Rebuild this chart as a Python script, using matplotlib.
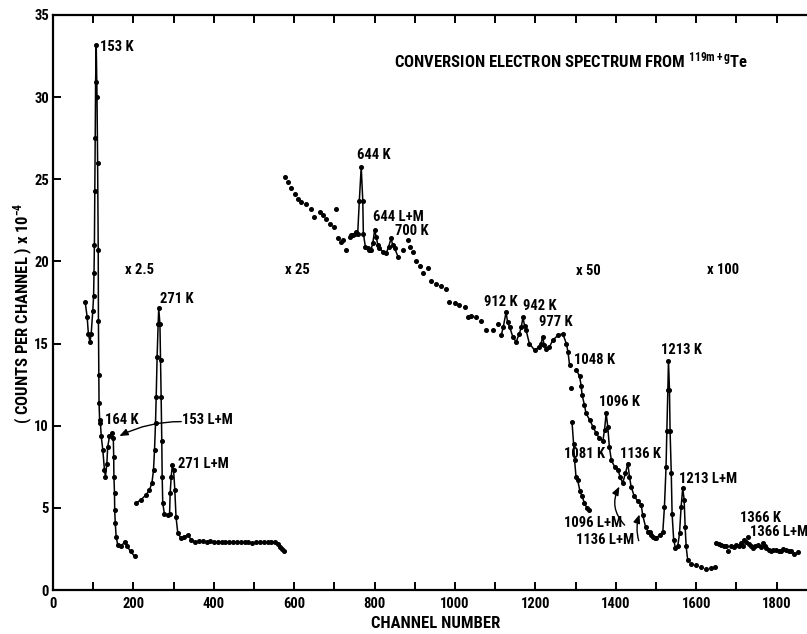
import numpy as np
import matplotlib
matplotlib.use("Agg")
import matplotlib.pyplot as plt
from matplotlib import font_manager

# ---------------------------------------------------------------- data
# 153 K / 164 K region (x1 and x2.5)
a_ch = [80, 85, 88, 92, 95, 99, 101, 102, 103, 104, 105, 106, 107.5, 109.5, 111,
        112.5, 113, 114, 114.5, 116, 118, 120, 124, 128, 130.5, 134, 136, 140.5,
        146, 150, 151, 151.5, 153, 153.5, 155, 157, 161, 170, 178, 184.5, 193, 203]
a_val = [17.55, 16.6, 15.6, 15.1, 15.6, 17.0, 17.9, 19.3, 21.0, 24.3, 27.5, 30.9,
         33.2, 30.0, 26.0, 20.7, 16.4, 13.1, 11.4, 10.35, 10.15, 9.35, 8.5, 7.3,
         6.9, 7.7, 8.7, 9.35, 9.55, 9.25, 8.1, 6.9, 5.9, 4.85, 4.05, 3.25, 2.75,
         2.65, 2.95, 2.65, 2.35, 2.05]

# 271 K / 271 L+M region
b_ch = [207, 219, 232, 240, 246, 250, 252.5, 255, 256.7, 259, 261.6, 263, 266,
        267.5, 269, 270.6, 271.6, 273, 277, 285.5, 290, 291.5, 294, 297, 300, 303,
        306, 310.5, 319, 327, 335, 344]
b_val = [5.3, 5.5, 5.8, 6.1, 6.5, 7.3, 8.5, 10.15, 11.75, 14.2, 16.2, 17.15, 16.2,
         14.0, 11.75, 9.1, 6.9, 5.3, 4.65, 4.55, 4.65, 5.9, 6.9, 7.6, 7.3, 6.1,
         4.45, 3.45, 3.15, 3.25, 3.35, 3.05]

# flat tail after 271 L+M
tail_ch = [353, 363, 372, 382, 391, 401, 410, 420, 429, 439, 448, 458, 467, 477,
           486, 496, 505, 515, 524, 534, 543, 553, 559, 565, 570, 574]
tail_val = [2.95, 3.0, 3.0, 2.95, 3.0, 2.95, 2.95, 2.95, 2.9, 2.95, 2.9, 2.95, 2.9,
            2.95, 2.9, 2.85, 2.95, 2.9, 2.9, 2.95, 2.9, 2.9, 2.8, 2.6, 2.5, 2.4]

# x25 region: 644 K ... 977 K
c_ch = [578, 584, 593, 601, 609, 617, 630, 642, 650, 663, 671, 680, 688, 700, 703,
        708, 717, 721, 729, 738, 742, 746, 750, 754, 758, 762, 766.7, 770.6, 772,
        777, 783, 787, 791, 795.5, 800, 804, 808, 812, 820, 829, 835, 841, 845, 850,
        858, 870, 883, 887, 895, 904, 912, 920, 932, 941, 953, 966, 978, 986, 999,
        1011, 1024, 1032, 1040, 1053, 1065, 1078, 1094, 1106, 1115, 1120, 1127, 1131,
        1136, 1144, 1152, 1160, 1165, 1169, 1173, 1177, 1185, 1198, 1210, 1214, 1218,
        1222, 1227, 1235, 1243, 1256, 1268, 1277, 1281, 1285]
c_val = [25.15, 24.85, 24.45, 24.1, 23.8, 23.6, 23.5, 23.2, 22.7, 23.0, 22.8, 22.6,
         22.3, 22.1, 23.2, 21.4, 21.2, 21.3, 20.7, 21.5, 21.6, 21.6, 21.7, 21.8,
         21.7, 23.7, 25.75, 23.7, 21.7, 20.9, 20.8, 20.7, 20.7, 21.1, 21.9, 21.5,
         21.0, 20.8, 20.6, 20.5, 20.9, 21.4, 21.0, 20.8, 20.3, 20.7, 21.3, 20.9,
         20.6, 20.0, 19.7, 19.3, 19.6, 18.8, 18.6, 18.5, 18.3, 17.55, 17.45, 17.35,
         17.25, 16.6, 16.7, 16.6, 16.4, 15.8, 15.8, 16.2, 15.5, 16.0, 16.9, 16.3,
         16.0, 15.4, 15.1, 15.6, 16.0, 16.6, 16.1, 15.8, 15.0, 14.6, 14.8, 15.0,
         15.4, 14.9, 14.7, 14.8, 15.2, 15.5, 15.6, 15.0, 14.5, 13.7]
c_traced = [(754, 858), (1110, 1285)]

# x50 region: 1048 K ... 1213 L+M
d_ch = [1302, 1310, 1314, 1316, 1322, 1326, 1335, 1343, 1351, 1359, 1368, 1372,
        1376, 1380, 1384, 1389, 1397, 1405, 1411, 1417, 1424, 1430, 1434, 1438,
        1446, 1455, 1463, 1467, 1474, 1480, 1484, 1488, 1492, 1497, 1500, 1509,
        1517, 1521, 1525, 1527, 1529.5, 1531, 1533.5, 1535, 1538, 1540, 1544,
        1548.5, 1554, 1558.5, 1562.5, 1566.5, 1570, 1572.5, 1575, 1579, 1587.5,
        1600, 1612, 1625, 1636, 1647]
d_val = [13.4, 13.0, 12.4, 11.9, 11.25, 10.75, 10.35, 9.95, 9.55, 9.25, 9.1, 9.75,
         10.75, 9.95, 8.7, 7.9, 7.5, 7.3, 6.9, 6.5, 7.1, 7.7, 6.9, 6.3, 5.7, 5.4,
         5.2, 4.55, 3.85, 3.55, 3.55, 3.35, 3.25, 3.15, 3.15, 3.35, 3.55, 5.07, 7.5,
         9.7, 12.2, 13.95, 12.2, 9.7, 7.1, 4.65, 3.05, 2.55, 2.65, 3.45, 5.07, 6.2,
         5.5, 3.85, 2.65, 1.8, 1.6, 1.55, 1.4, 1.3, 1.35, 1.4]
d_traced = [(1302, 1579)]

# lower branch through 1081 K
e_ch = [1289, 1291, 1295, 1297.5, 1301, 1305, 1311, 1316, 1322, 1328, 1333]
e_val = [12.3, 10.25, 8.9, 7.9, 6.9, 6.7, 6.0, 5.7, 5.3, 5.0, 4.85]

# x100 region: 1366 K
f_ch = [1650, 1656, 1662, 1668, 1675, 1679, 1687, 1694, 1700, 1706, 1712, 1716,
        1720, 1724, 1728, 1732, 1737, 1741, 1747, 1753, 1760, 1766, 1770, 1774,
        1780, 1786, 1792, 1799, 1805, 1811, 1817, 1823, 1830, 1836, 1844, 1852]
f_val = [2.85, 2.8, 2.75, 2.7, 2.65, 2.35, 2.7, 2.6, 2.75, 2.65, 2.85, 2.7, 3.05,
         2.9, 3.25, 2.8, 2.65, 2.55, 2.7, 2.75, 2.6, 2.85, 2.7, 2.55, 2.45, 2.35,
         2.45, 2.45, 2.4, 2.35, 2.5, 2.45, 2.35, 2.4, 2.2, 2.3]

# line labels (text, channel, counts)
peak_labels = [
    ("153 K", 118, 33.05), ("271 K", 265, 17.7), ("164 K", 130, 10.35),
    ("271 L+M", 310, 7.7), ("644 K", 757, 26.5), ("644 L+M", 795, 22.7),
    ("700 K", 850, 21.85), ("912 K", 1071, 17.55), ("942 K", 1168, 17.3),
    ("977 K", 1208, 16.3), ("1048 K", 1295, 14.0), ("1096 K", 1359, 11.45),
    ("1081 K", 1272, 8.3), ("1136 K", 1411, 8.3), ("1213 K", 1513, 14.6),
    ("1213 L+M", 1558, 6.75), ("1366 K", 1708, 4.4), ("1366 L+M", 1735, 3.5),
]
scale_labels = [("x 2.5", 178, 19.5), ("x 25", 576, 19.5),
                ("x 50", 1302, 19.4), ("x 100", 1628, 19.5)]
# arrowed labels: (text, text channel, text counts, tail, head, curvature)
arrow_labels = [
    ("153 L+M", 322, 10.35, (319, 10.25), (165, 9.37), 0.12),
    ("1096 L+M", 1270, 4.05, (1422, 3.95), (1409, 6.3), -0.35),
    ("1136 L+M", 1301, 3.05, (1457, 3.0), (1459, 4.6), -0.15),
]

x_major = list(range(0, 1801, 200))
x_minor = list(range(100, 1801, 200))
y_major = list(range(0, 36, 5))

# ---------------------------------------------------------------- fonts
avail = {f.name for f in font_manager.fontManager.ttflist}
narrow = next((n for n in ["Liberation Sans Narrow", "Roboto Condensed",
                           "Open Sans Condensed"] if n in avail), None)
if narrow is None:
    txt_kw = dict(family="DejaVu Sans", fontstretch="condensed")
    base = "DejaVu Sans"
else:
    txt_kw = dict(family=narrow)
    base = narrow
plt.rcParams["mathtext.fontset"] = "custom"
plt.rcParams["mathtext.rm"] = base
plt.rcParams["mathtext.bf"] = base + ":bold"
plt.rcParams["mathtext.it"] = base + ":italic"

# ---------------------------------------------------------------- figure
W, H = 807, 634
fig = plt.figure(figsize=(W / 100, H / 100), dpi=100)
left_px, bottom_px, top_px = 53, 44, 15
ax = fig.add_axes([left_px / W, bottom_px / H, 1 - left_px / W,
                   (H - bottom_px - top_px) / H])
ax.set_xlim(0, (W - left_px) / 0.402)
ax.set_ylim(0, 35)

for s in ("left", "top", "bottom"):
    ax.spines[s].set_linewidth(1.6)
ax.spines["right"].set_visible(False)

ax.set_xticks(x_major)
ax.set_xticks(x_minor, minor=True)
ax.set_yticks(y_major)
ax.tick_params(axis="both", which="both", direction="in", length=6, width=1.4,
               top=True, right=False, labelsize=10.5, pad=3)
ax.tick_params(axis="x", which="major", pad=5)
for lab in ax.get_xticklabels() + ax.get_yticklabels():
    lab.set_fontweight("bold")
    lab.set_fontfamily(txt_kw["family"])
    if "fontstretch" in txt_kw:
        lab.set_fontstretch("condensed")

ms = 2.6
lw = 1.1


def draw(ch, val, traced=None, line_all=False):
    ch = np.asarray(ch, float)
    val = np.asarray(val, float)
    ax.plot(ch, val, "o", ms=ms, color="black", mec="black", zorder=3)
    if line_all:
        ax.plot(ch, val, "-", lw=lw, color="black", zorder=2)
    for lo, hi in (traced or []):
        m = (ch >= lo) & (ch <= hi)
        ax.plot(ch[m], val[m], "-", lw=lw, color="black", zorder=2)


draw(a_ch, a_val, line_all=True)
draw(b_ch, b_val, line_all=True)
draw(tail_ch, tail_val)
draw(c_ch, c_val, traced=c_traced)
draw(d_ch, d_val, traced=d_traced)
draw(e_ch, e_val, traced=[(1291, 1333)])
draw(f_ch, f_val)

fs = 10.5
for t, x, y in peak_labels + scale_labels:
    ax.text(x, y, t, ha="left", va="center", fontsize=fs, fontweight="bold",
            **txt_kw)

for t, tx, ty, tail, head, rad in arrow_labels:
    ax.text(tx, ty, t, ha="left", va="center", fontsize=fs, fontweight="bold",
            **txt_kw)
    ax.annotate("", xy=head, xytext=tail,
                arrowprops=dict(arrowstyle="-|>,head_length=0.5,head_width=0.2",
                                color="black", lw=1.0, shrinkA=0, shrinkB=0,
                                connectionstyle=f"arc3,rad={rad}"))

ax.text(849, 32.25, r"CONVERSION ELECTRON SPECTRUM FROM $^{\mathbf{119m+g}}$Te",
        ha="left", va="center", fontsize=12, fontweight="bold", **txt_kw)

fig.text(436 / W, 1 - 624 / H, "CHANNEL NUMBER", ha="center", va="center",
         fontsize=12, fontweight="bold", **txt_kw)
fig.text(23 / W, 1 - 313 / H, r"( COUNTS PER CHANNEL ) x 10$^{\mathbf{-4}}$",
         ha="center", va="center", rotation=90, fontsize=12, fontweight="bold",
         **txt_kw)

fig.savefig("out.png", dpi=100)
